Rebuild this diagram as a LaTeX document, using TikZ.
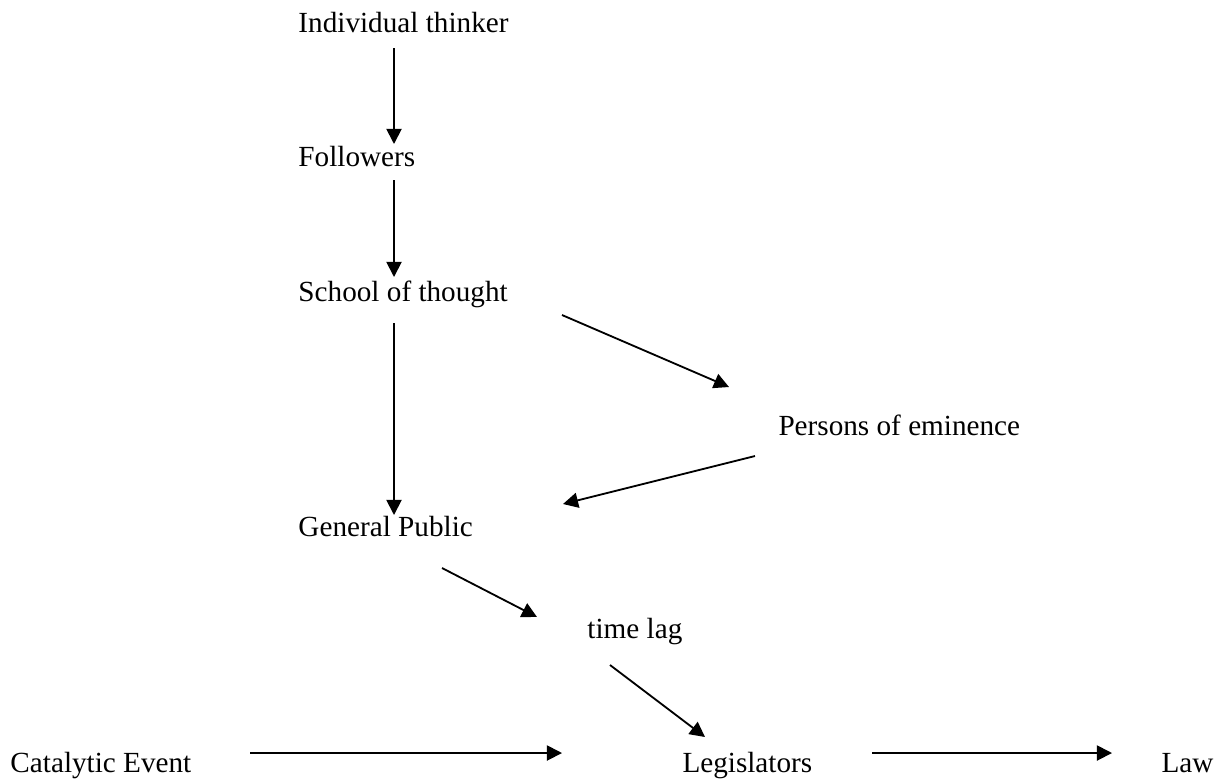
\documentclass[tikz,border=0pt]{standalone}
\usepackage{fontspec}
\setmainfont{Liberation Serif}
\usetikzlibrary{arrows.meta}
\begin{document}
\begin{tikzpicture}[x=0.411pt,y=-0.411pt]
    % Styles
    \tikzstyle{fleche}=[-{Triangle[length=6.2pt,width=6.2pt]},line width=0.75pt]
    \tikzstyle{texte}=[anchor=base west,inner sep=0pt,font=\fontsize{12}{14}\selectfont]
    % Dimensions
    \def\Colonne{298}
    \def\Axe{394}
    \def\Ligne{772}
    \def\LigneFleche{753}
    % Cadre
    \useasboundingbox (0,0) rectangle (1216,779);
    % Noeuds
    \node[texte] (thinker) at (\Colonne,32) {Individual thinker};
    \node[texte] (followers) at (\Colonne,166) {Followers};
    \node[texte] (school) at (\Colonne,301) {School of thought};
    \node[texte] (eminence) at (778,435) {Persons of eminence};
    \node[texte] (public) at (\Colonne,536) {General Public};
    \node[texte] (lag) at (587,638) {time lag};
    \node[texte] (event) at (10,\Ligne) {Catalytic Event};
    \node[texte] (legis) at (682,\Ligne) {Legislators};
    \node[texte] (law) at (1161,\Ligne) {Law};
    % Extremites des arcs
    \coordinate (thinkerS) at (\Axe,48);
    \coordinate (followersN) at (\Axe,144);
    \coordinate (followersS) at (\Axe,180);
    \coordinate (schoolN) at (\Axe,277);
    \coordinate (schoolS) at (\Axe,323);
    \coordinate (schoolE) at (562,315);
    \coordinate (publicN) at (\Axe,515);
    \coordinate (publicE) at (563,504);
    \coordinate (publicS) at (442,568);
    \coordinate (eminenceW) at (729,387);
    \coordinate (eminenceS) at (755,456);
    \coordinate (lagN) at (537,617);
    \coordinate (lagS) at (610,665);
    \coordinate (legisN) at (705,737);
    \coordinate (legisW) at (562,\LigneFleche);
    \coordinate (legisE) at (872,\LigneFleche);
    \coordinate (eventE) at (250,\LigneFleche);
    \coordinate (lawW) at (1112,\LigneFleche);
    % Arcs
    \draw[fleche] (thinkerS)--(followersN) ;
    \draw[fleche] (followersS)--(schoolN) ;
    \draw[fleche] (schoolS)--(publicN) ;
    \draw[fleche] (schoolE)--(eminenceW) ;
    \draw[fleche] (eminenceS)--(publicE) ;
    \draw[fleche] (publicS)--(lagN) ;
    \draw[fleche] (lagS)--(legisN) ;
    \draw[fleche] (eventE)--(legisW) ;
    \draw[fleche] (legisE)--(lawW) ;
\end{tikzpicture}
\end{document}
